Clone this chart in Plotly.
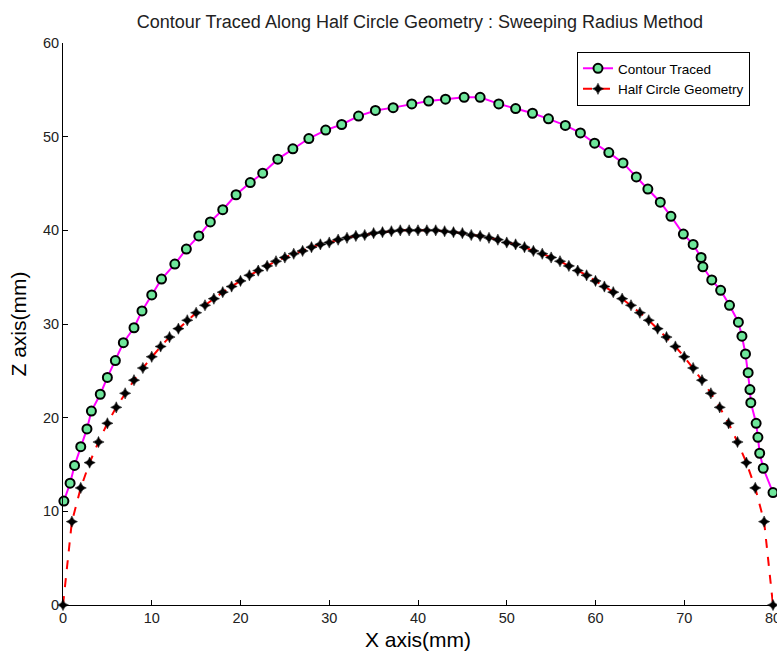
import plotly.graph_objects as go

# Contour Traced (green circles, magenta line)
contour_x = [0.1, 0.8, 1.3, 2.0, 2.7, 3.2, 4.2, 5.0, 5.9, 6.8, 8.0, 8.9, 10.0, 11.1, 12.6, 13.9,
             15.3, 16.6, 18.0, 19.5, 21.1, 22.5, 24.2, 25.9, 27.7, 29.6, 31.4, 33.3, 35.2, 37.2,
             39.3, 41.2, 43.1, 45.2, 47.0, 49.1, 51.0, 52.9, 54.7, 56.6, 58.3, 59.9, 61.5, 63.1,
             64.6, 65.9, 67.3, 68.5, 69.9, 71.0, 71.9, 72.1, 73.1, 74.1, 75.1, 76.1, 76.5, 76.9,
             77.2, 77.4, 77.5, 78.1, 78.3, 78.5, 78.9, 80.0]
contour_z = [11.1, 13.0, 14.9, 16.9, 18.8, 20.7, 22.5, 24.3, 26.1, 28.0, 29.6, 31.4, 33.1, 34.8,
             36.4, 38.0, 39.4, 40.9, 42.2, 43.8, 45.1, 46.1, 47.6, 48.7, 49.8, 50.7, 51.3, 52.2,
             52.8, 53.1, 53.5, 53.8, 54.0, 54.2, 54.2, 53.5, 53.0, 52.5, 51.9, 51.2, 50.4, 49.3,
             48.3, 47.2, 45.7, 44.4, 43.0, 41.5, 39.6, 38.5, 37.1, 36.1, 34.7, 33.6, 32.0, 30.2,
             28.7, 26.8, 24.8, 23.0, 21.6, 19.4, 17.9, 16.2, 14.6, 12.0]

# Half Circle Geometry (black stars, red dashed line)
geom_x = list(range(0, 81))
geom_z = [0.0, 8.9, 12.5, 15.2, 17.4, 19.4, 21.1, 22.6, 24.0, 25.3, 26.5, 27.6, 28.6, 29.5, 30.4,
          31.2, 32.0, 32.7, 33.4, 34.0, 34.6, 35.2, 35.7, 36.2, 36.7, 37.1, 37.5, 37.8, 38.2,
          38.5, 38.7, 39.0, 39.2, 39.4, 39.5, 39.7, 39.8, 39.9, 40.0, 40.0, 40.0,
          40.0, 40.0, 39.9, 39.8, 39.7, 39.5, 39.4, 39.2, 39.0, 38.7, 38.5, 38.2, 37.8, 37.5,
          37.1, 36.7, 36.2, 35.7, 35.2, 34.6, 34.0, 33.4, 32.7, 32.0, 31.2, 30.4, 29.5, 28.6,
          27.6, 26.5, 25.3, 24.0, 22.6, 21.1, 19.4, 17.4, 15.2, 12.5, 8.9, 0.0]

x_ticks = [0, 10, 20, 30, 40, 50, 60, 70, 80]
z_ticks = [0, 10, 20, 30, 40, 50, 60]

narrow = "Liberation Sans Narrow, Arial Narrow, Liberation Sans, Arial, sans-serif"
sans = "Liberation Sans, Arial, sans-serif"

fig = go.Figure()
fig.add_trace(go.Scatter(
    x=contour_x, y=contour_z, mode="lines+markers", name="Contour Traced",
    line=dict(color="#FF00FF", width=2),
    marker=dict(symbol="circle", size=9, color="#6EE69A", line=dict(color="black", width=2)),
    cliponaxis=False,
))
fig.add_trace(go.Scatter(
    x=geom_x, y=geom_z, mode="lines+markers", name="Half Circle Geometry",
    line=dict(color="#FF0000", width=2, dash="dash"),
    marker=dict(symbol="star-diamond", size=8, color="black", line=dict(color="black", width=0.5)),
    cliponaxis=False,
))

fig.update_layout(
    width=777, height=653,
    margin=dict(l=63, r=4, t=43, b=48, autoexpand=False),
    paper_bgcolor="white", plot_bgcolor="white",
    title=dict(text="Contour Traced Along Half Circle Geometry : Sweeping Radius Method",
               x=0.5405, xanchor="center", y=0.9663, yanchor="middle",
               font=dict(family=narrow, size=18, color="#222222")),
    xaxis=dict(range=[0, 80], tickvals=x_ticks, ticks="inside", ticklen=5, tickcolor="black",
               showline=True, linecolor="black", linewidth=1, showgrid=False, zeroline=False,
               automargin=False, ticklabeloverflow="allow",
               tickfont=dict(family=narrow, size=14.5, color="#222222"),
               title=dict(text="X axis(mm)", font=dict(family=sans, size=21, color="black"), standoff=6)),
    yaxis=dict(range=[0, 60], tickvals=z_ticks, ticks="inside", ticklen=5, tickcolor="black",
               showline=True, linecolor="black", linewidth=1, showgrid=False, zeroline=False,
               automargin=False, ticklabeloverflow="allow",
               tickfont=dict(family=narrow, size=14.5, color="#222222"),
               title=dict(text="Z axis(mm)", font=dict(family=sans, size=21, color="black"), standoff=10)),
    legend=dict(x=0.9676, xanchor="right", y=0.984, yanchor="top",
                bgcolor="white", bordercolor="black", borderwidth=1,
                font=dict(family=narrow, size=13.5, color="black"),
                itemwidth=30, tracegroupgap=0),
    showlegend=True,
)

fig.write_html(
    "out.html",
    config={"displayModeBar": False},
    post_script="document.body.style.margin='0';document.body.style.overflow='hidden';",
)
